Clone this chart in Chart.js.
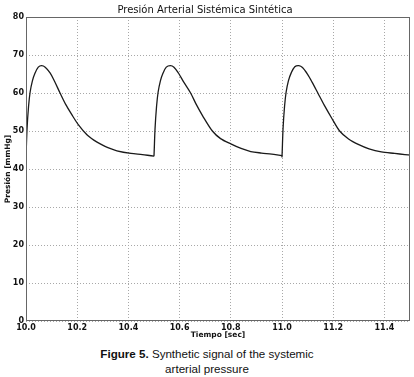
<!DOCTYPE html>
<html>
<head>
<meta charset="utf-8">
<script src="https://cdn.jsdelivr.net/npm/chart.js@4"></script>
<style>
  body { margin: 0; background: #fff; }
  #wrap { position: relative; width: 414px; height: 340px; }
  #caption {
    width: 414px; text-align: center;
    font-family: "Liberation Sans", Arial, sans-serif;
    font-size: 11.6px; line-height: 15px; color: #111;
    margin-top: 6px;
  }
</style>
</head>
<body>
<div id="wrap"><canvas id="presion"></canvas></div>
<div id="caption"><b>Figure 5.</b> Synthetic signal of the systemic<br>arterial pressure</div>
<script>
// valores (tiempo en s, presión en mmHg)
const tiempo1 = [10.000, 10.004, 10.010, 10.016, 10.025, 10.035, 10.048, 10.061, 10.075, 10.094, 10.110, 10.133, 10.155, 10.179, 10.205, 10.238, 10.265, 10.290, 10.320, 10.355, 10.410, 10.455, 10.499];
const presion1 = [43.0, 50.5, 56.5, 60.2, 63.2, 65.2, 66.8, 67.2, 66.8, 65.3, 63.3, 60.0, 57.0, 54.3, 51.6, 49.0, 47.6, 46.6, 45.6, 44.8, 44.1, 43.8, 43.4];
const tiempo2 = [10.500, 10.504, 10.510, 10.516, 10.525, 10.535, 10.548, 10.564, 10.578, 10.596, 10.615, 10.643, 10.665, 10.690, 10.728, 10.760, 10.800, 10.840, 10.878, 10.920, 10.960, 10.999];
const presion2 = [43.5, 50.5, 56.5, 60.2, 63.2, 65.2, 66.8, 67.2, 66.8, 65.2, 63.0, 60.0, 57.0, 54.0, 50.0, 48.0, 46.6, 45.4, 44.6, 44.2, 43.9, 43.5];
const tiempo3 = [11.000, 11.004, 11.010, 11.016, 11.025, 11.036, 11.050, 11.066, 11.080, 11.100, 11.118, 11.140, 11.165, 11.195, 11.225, 11.260, 11.300, 11.340, 11.388, 11.440, 11.480, 11.506];
const presion3 = [43.2, 50.5, 56.5, 60.2, 63.2, 65.3, 66.9, 67.2, 66.7, 64.9, 62.8, 60.0, 56.8, 53.3, 50.0, 47.9, 46.4, 45.3, 44.5, 44.1, 43.8, 43.6];

const tiempoTicks = [10.0, 10.2, 10.4, 10.6, 10.8, 11.0, 11.2, 11.4];
const presionTicks = [0, 10, 20, 30, 40, 50, 60, 70, 80];

const puntos = [];
[[tiempo1, presion1], [tiempo2, presion2], [tiempo3, presion3]].forEach(([t, p]) => {
  t.forEach((x, i) => puntos.push({ x: x, y: p[i] }));
});

// marco completo como en matplotlib
const marco = {
  id: 'marco',
  afterDraw(chart) {
    const { ctx, chartArea: a } = chart;
    ctx.save();
    ctx.strokeStyle = '#666';
    ctx.lineWidth = 1;
    ctx.strokeRect(a.left + 0.5, a.top + 0.5, a.right - a.left - 1, a.bottom - a.top - 1);
    ctx.restore();
  }
};

const fuenteTicks = { family: 'DejaVu Sans', size: 8, weight: 'bold' };
const rejilla = { color: '#a8a8a8', drawTicks: false };
const bordeRejilla = { display: false, dash: [1, 2] };

new Chart(document.getElementById('presion').getContext('2d'), {
  type: 'line',
  data: {
    datasets: [{
      data: puntos,
      borderColor: '#1a1a1a',
      borderWidth: 1.3,
      pointRadius: 0,
      tension: 0.3,
      fill: false
    }]
  },
  options: {
    responsive: true,
    maintainAspectRatio: false,
    animation: false,
    layout: { padding: { left: 0, right: 4, top: 0, bottom: 0 } },
    plugins: {
      legend: { display: false },
      tooltip: { enabled: false },
      title: {
        display: true,
        text: 'Presión Arterial Sistémica Sintética',
        color: '#111',
        font: { family: 'DejaVu Sans', size: 10, weight: 'normal' },
        padding: { top: 4, bottom: 1 }
      }
    },
    scales: {
      x: {
        type: 'linear',
        min: 10.0,
        max: 11.5,
        grid: rejilla,
        border: bordeRejilla,
        afterBuildTicks: (axis) => { axis.ticks = tiempoTicks.map(v => ({ value: v })); },
        afterFit: (axis) => { axis.height = 19; },
        ticks: {
          color: '#111',
          font: fuenteTicks,
          padding: 2,
          maxRotation: 0,
          callback: (v) => Number(v).toFixed(1)
        },
        title: {
          display: true,
          text: 'Tiempo [sec]',
          color: '#111',
          font: { family: 'DejaVu Sans', size: 7.5, weight: 'bold' },
          padding: { top: 0, bottom: 0 }
        }
      },
      y: {
        min: 0,
        max: 80,
        grid: rejilla,
        border: bordeRejilla,
        afterBuildTicks: (axis) => { axis.ticks = presionTicks.map(v => ({ value: v })); },
        afterFit: (axis) => { axis.width = 26; },
        ticks: { color: '#111', font: fuenteTicks, padding: 2 },
        title: {
          display: true,
          text: 'Presión [mmHg]',
          color: '#111',
          font: { family: 'DejaVu Sans', size: 7.5, weight: 'bold' },
          padding: { top: 4, bottom: 0 }
        }
      }
    }
  },
  plugins: [marco]
});
</script>
</body>
</html>
